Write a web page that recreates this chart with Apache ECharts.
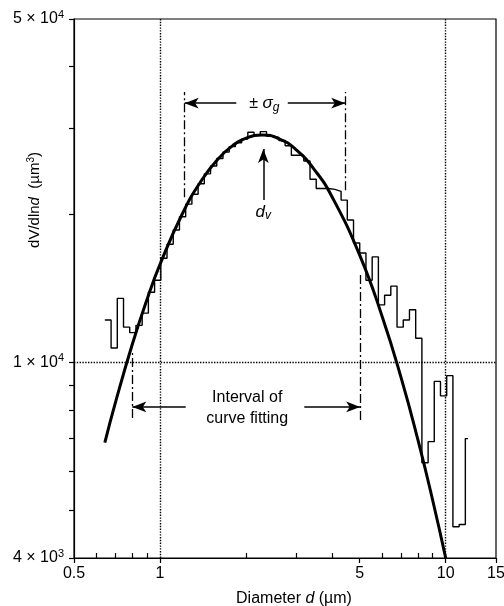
<!DOCTYPE html>
<html>
<head>
<meta charset="utf-8">
<script src="https://cdn.jsdelivr.net/npm/echarts@6/dist/echarts.min.js"></script>
<style>html,body{margin:0;padding:0;background:#fff}#c{width:504px;height:606px}</style>
</head>
<body>
<div id="c"></div>
<script>
// ---------- data ----------
// histogram bin left edges (µm), last entry = where the drawn step ends
const histEdges = [0.6411,0.6742,0.7088,0.7452,0.7835,0.8238,0.8661,0.9106,0.9573,1.0065,
  1.0582,1.1126,1.1698,1.2299,1.2931,1.3595,1.4294,1.5028,1.5800,1.6612,
  1.7466,1.8363,1.9306,2.0298,2.1341,2.2438,2.3590,2.4803,2.6077,2.7417,
  2.8826,3.0306,3.1864,3.3501,3.5222,3.7032,3.8934,4.0935,4.3038,4.5249,
  4.7574,5.0018,5.2588,5.5290,5.8131,6.1118,6.4258,6.7560,7.1031,7.4681,
  7.8518,8.2552,8.6793,9.1201,9.5888,10.081,10.599,11.144,11.716,11.975];
// histogram dV/dlnd values per bin (µm³)
const histValues = [12200,10700,13500,11800,11500,11900,12600,13900,14700,16300,
  17400,18600,19800,21000,22000,23100,24200,25100,26000,26800,
  27500,28000,28500,29400,29000,29500,28900,28700,28300,27600,
  26400,26400,25700,23600,22600,22600,22500,22300,21400,19500,
  17500,16700,14700,16400,13100,13700,14300,11800,12200,12800,
  11200,6250,6900,9150,8550,9400,4630,4680,7000];
// fitted log-normal curve
const curveD = [0.641,0.7,0.8,0.9,1.0,1.2,1.4,1.6,1.8,2.0,2.27,2.6,3.0,3.5,4.0,5.0,6.0,7.0,8.0,9.0,10.0];
const curveV = [6870,8330,10890,13420,15830,20120,23510,25990,27660,28610,29030,28560,27070,24520,21740,16540,12380,9260,6950,5250,4000];
// axis ticks
const xMajorTicks = [0.5,1,5,10,15];
const xMinorTicks = [0.6,0.7,0.8,0.9,2,3,4,6,7,8,9];
const yMajorTicks = [4000,10000,50000];
const yMinorTicks = [5000,6000,7000,8000,9000,20000,30000,40000];
const yTickText = {4000:['4','3'],10000:['1','4'],50000:['5','4']};
// reference lines
const dottedX = [1,10];
const dottedY = [10000];
const sigmaD = [1.22,4.45];          // ±σg limits
const sigmaSpan = [[21700,35500],[22400,35500]];
const sigmaArrowV = 33700;
const sigmaArrowFrom = [1.85,2.80];
const dvD = 2.30, dvArrowV = [21400,27200];
const fitD = [0.80,5.02];            // interval of curve fitting
const fitSpan = [[7710,10450],[7640,15060]];
const fitArrowV = 8120;
const fitArrowFrom = [1.23,3.20];

// ---------- build ----------
const histData = histEdges.map((d,i)=>[d, histValues[Math.min(i,histValues.length-1)]]);
const curveData = curveD.map((d,i)=>[d,curveV[i]]);
const FONT = 'Liberation Sans, Arial, Helvetica, sans-serif';
const black = '#000';
const supRich = {
  b:{fontSize:16,fontFamily:FONT,color:black},
  s:{fontSize:11,fontFamily:FONT,color:black,padding:[0,0,9,0]}
};
const dashDot = [9,3,2,3];

function seg(p1,p2,sym){
  return [{coord:p1,symbol:sym?sym[0]:'none'},{coord:p2,symbol:sym?sym[1]:'none'}];
}

const chart = echarts.init(document.getElementById('c'),null,{renderer:'canvas'});
const option = {
  backgroundColor:'#fff',
  animation:false,
  grid:{left:74,right:8,top:19,bottom:48,show:true,borderColor:black,borderWidth:1.2,
    backgroundColor:'transparent',containLabel:false,outerBoundsMode:'none'},
  xAxis:[{
    type:'log',logBase:10,min:0.5,max:15,
    axisLine:{show:true,lineStyle:{color:black,width:1.2}},
    splitLine:{show:false},minorTick:{show:false},
    axisTick:{show:true,customValues:xMajorTicks,length:5,inside:false,lineStyle:{color:black,width:1.2}},
    axisLabel:{customValues:xMajorTicks,color:black,fontSize:16,fontFamily:FONT,margin:8,
      formatter:v=>String(v)},
    name:'Diameter {i|d} (µm)',nameLocation:'middle',nameGap:33,
    nameTextStyle:{fontSize:16,fontFamily:FONT,color:black,padding:[0,0,0,18],
      rich:{i:{fontStyle:'italic',fontSize:16,fontFamily:FONT,color:black}}}
  },{
    type:'log',logBase:10,min:0.5,max:15,position:'bottom',
    axisLine:{show:false},splitLine:{show:false},
    axisTick:{show:true,customValues:xMinorTicks,length:5,inside:true,lineStyle:{color:black,width:1.2}},
    axisLabel:{show:false}
  }],
  yAxis:[{
    type:'log',logBase:10,min:4000,max:50000,
    axisLine:{show:true,lineStyle:{color:black,width:1.2}},
    splitLine:{show:false},
    axisTick:{show:true,customValues:yMajorTicks,length:5,inside:false,lineStyle:{color:black,width:1.2}},
    axisLabel:{customValues:yMajorTicks,margin:10,
      formatter:v=>{const t=yTickText[Math.round(v)];return t?('{b|'+t[0]+' × 10}{s|'+t[1]+'}'):'';},
      rich:supRich}
  },{
    type:'log',logBase:10,min:4000,max:50000,position:'left',
    axisLine:{show:false},splitLine:{show:false},
    axisTick:{show:true,customValues:yMinorTicks,length:5,inside:false,lineStyle:{color:black,width:1.2}},
    axisLabel:{show:false}
  }],
  graphic:[{
    type:'text',x:35,y:200,rotation:Math.PI/2,
    style:{text:'dV/dln{i|d}  (µm{s|3})',align:'center',verticalAlign:'middle',
      font:'15px '+FONT,fill:black,
      rich:{i:{fontStyle:'italic',fontSize:15,fontFamily:FONT,fill:black},
            s:{fontSize:10,fontFamily:FONT,fill:black,padding:[0,0,8,0]}}}
  }],
  series:[{
    type:'line',name:'histogram',data:histData,step:'end',
    showSymbol:false,symbol:'none',
    lineStyle:{color:black,width:1.4},
    markLine:{silent:true,symbol:'none',animation:false,label:{show:false},
      lineStyle:{color:black,width:1.4,type:'dotted'},
      data:[...dottedX.map(d=>({xAxis:d})),...dottedY.map(v=>({yAxis:v}))]
    },
    z:3
  },{
    type:'line',name:'fit',data:curveData,smooth:0.5,showSymbol:false,symbol:'none',
    lineStyle:{color:black,width:3},z:4
  },{
    type:'line',name:'annot',data:[],
    markLine:{silent:true,symbol:'none',animation:false,label:{show:false},
      lineStyle:{color:black,width:1.3,type:dashDot},
      data:[
        seg([sigmaD[0],sigmaSpan[0][0]],[sigmaD[0],sigmaSpan[0][1]]),
        seg([sigmaD[1],sigmaSpan[1][0]],[sigmaD[1],sigmaSpan[1][1]]),
        seg([fitD[0],fitSpan[0][0]],[fitD[0],fitSpan[0][1]]),
        seg([fitD[1],fitSpan[1][0]],[fitD[1],fitSpan[1][1]])
      ]}
  },{
    type:'line',name:'arrows',data:[],
    markLine:{silent:true,animation:false,label:{show:false},symbolSize:[8,14],
      lineStyle:{color:black,width:1.5,type:'solid'},
      data:[
        seg([sigmaArrowFrom[0],sigmaArrowV],[sigmaD[0],sigmaArrowV],['none','arrow']),
        seg([sigmaArrowFrom[1],sigmaArrowV],[sigmaD[1],sigmaArrowV],['none','arrow']),
        seg([fitArrowFrom[0],fitArrowV],[fitD[0],fitArrowV],['none','arrow']),
        seg([fitArrowFrom[1],fitArrowV],[fitD[1],fitArrowV],['none','arrow']),
        seg([dvD,dvArrowV[0]],[dvD,dvArrowV[1]],['none','arrow'])
      ]}
  },{
    type:'scatter',name:'labels',symbolSize:0,silent:true,
    itemStyle:{color:black,opacity:1},
    label:{show:true,position:'inside',color:black,fontFamily:FONT,fontSize:16,
      textBorderWidth:0,textBorderColor:'transparent',opacity:1},
    data:[
      {value:[2.317,33700],label:{formatter:'{n|± }{i|σ}{g|g}',
        rich:{n:{fontSize:16,fontFamily:FONT,color:black},
              i:{fontStyle:'italic',fontSize:17,fontFamily:FONT,color:black},
              g:{fontStyle:'italic',fontSize:12,fontFamily:FONT,color:black,padding:[8,0,0,0]}}}},
      {value:[2.30,20240],label:{formatter:'{i|d}{v|v}',
        rich:{i:{fontStyle:'italic',fontSize:17,fontFamily:FONT,color:black},
              v:{fontStyle:'italic',fontSize:12,fontFamily:FONT,color:black,padding:[8,0,0,0]}}}},
      {value:[2.02,8080],label:{formatter:'Interval of\ncurve fitting',lineHeight:21,align:'center',color:black}}
    ]
  }]
};
chart.setOption(option);
</script>
</body>
</html>
